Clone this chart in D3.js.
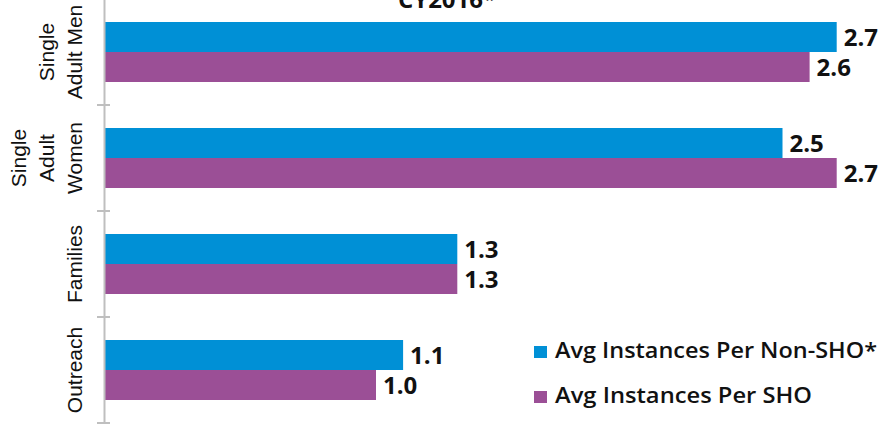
<!DOCTYPE html>
<html><head><meta charset="utf-8">
<script src="https://cdn.jsdelivr.net/npm/d3@7"></script>
<style>body{margin:0;background:#fff}svg{display:block}</style>
</head><body>
<svg id="c" width="891" height="424"></svg>
<script>
const categories = [["Single","Adult Men"],["Single","Adult","Women"],["Families"],["Outreach"]];
const seriesNames = ["Avg Instances Per Non-SHO*","Avg Instances Per SHO"];
const nonSHO = [2.7, 2.5, 1.3, 1.1];
const sho = [2.6, 2.7, 1.3, 1.0];
const colors = ["#0090D6","#9B4F96"];
const title = "CY2016*";

const svg = d3.select("#c");
const axisX = 104;
const x = d3.scaleLinear().domain([0,3]).range([105, 918]);
const y = d3.scaleBand().domain(d3.range(categories.length)).range([-1, 423]).paddingInner(0).paddingOuter(0);
const inner = d3.scaleBand().domain([0,1]).range([23, 83]);

svg.append("text").attr("x",447).attr("y",8).attr("text-anchor","middle")
  .attr("font-family","Open Sans").attr("font-weight",700).attr("font-size",24).attr("fill","#111").text(title);

const series = [nonSHO, sho];
series.forEach((vals,si)=>{
  const g = svg.append("g");
  g.selectAll("rect").data(vals).join("rect")
    .attr("x", x(0)).attr("y",(d,i)=>y(i)+inner(si)).attr("width",d=>x(d)-x(0)).attr("height",inner.bandwidth())
    .attr("fill",colors[si]);
  g.selectAll("text").data(vals).join("text")
    .attr("x",d=>x(d)+7).attr("y",(d,i)=>y(i)+inner(si)+inner.bandwidth()/2+8.5)
    .attr("font-family","Open Sans").attr("font-weight",700).attr("font-size",24).attr("fill","#111")
    .text(d=>d.toFixed(1));
});

// axis
const ax = svg.append("g").attr("transform",`translate(${axisX},0)`)
  .call(d3.axisLeft(y).tickValues([]).tickSizeOuter(0));
ax.select(".domain").attr("stroke","#bfbfbf").attr("stroke-width",2);
const tickYs = d3.range(categories.length+1).map(i=> i<categories.length ? y(i) : y(categories.length-1)+y.bandwidth());
svg.selectAll(".tk").data(tickYs).join("line").attr("class","tk")
  .attr("x1",axisX-7).attr("x2",axisX+6).attr("y1",d=>d).attr("y2",d=>d)
  .attr("stroke","#bfbfbf").attr("stroke-width",2);

// category labels
categories.forEach((lines,i)=>{
  const cy = y(i)+y.bandwidth()/2;
  const n = lines.length;
  lines.forEach((ln,j)=>{
    const bx = 82 - (n-1-j)*28;
    svg.append("text").attr("transform",`translate(${bx},${cy}) rotate(-90)`)
      .attr("text-anchor","middle").attr("font-family","Liberation Sans").attr("font-size",21)
      .attr("fill","#111").text(ln);
  });
});

// legend
const legendWidths = [322, 257];
const lg = svg.append("g");
seriesNames.forEach((nm,i)=>{
  const ly = 358 + i*45;
  lg.append("rect").attr("x",534).attr("y",ly-12).attr("width",13).attr("height",12).attr("fill",colors[i]);
  lg.append("text").attr("x",555).attr("y",ly).attr("font-family","Open Sans").attr("font-weight",600)
    .attr("font-size",21).attr("fill","#111")
    .attr("textLength",legendWidths[i]).attr("lengthAdjust","spacingAndGlyphs").text(nm);
});
</script>
</body></html>
